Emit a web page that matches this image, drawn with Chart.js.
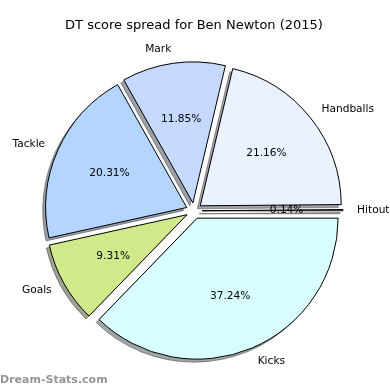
<!DOCTYPE html>
<html lang="en">
<head>
<meta charset="UTF-8">
<title>DT score spread for Ben Newton (2015)</title>
<script src="https://cdn.jsdelivr.net/npm/chart.js"></script>
<style>
    html, body { margin: 0; padding: 0; background: #fff; }
    #wrap { width: 390px; height: 390px; }
</style>
</head>
<body>
<div id="wrap"><canvas id="pie" width="390" height="390"></canvas></div>
<script>
    // values (matplotlib order, anticlockwise from 3 o'clock)
    const categories = ['Hitout', 'Handballs', 'Mark', 'Tackle', 'Goals', 'Kicks'];
    const shares = [0.14, 21.16, 11.85, 20.31, 9.31, 37.24];
    const sliceColors = ['#dfe6f2', '#eaf1ff', '#c5d9ff', '#b4d5ff', '#d0ea8b', '#d8feff'];
    const chartTitle = 'DT score spread for Ben Newton (2015)';
    const watermark = 'Dream-Stats.com';

    const EXPLODE = 8;   // px each slice is pushed out
    const SHADOW = 3;    // shadow offset, left & down
    const FONT = '"DejaVu Sans", sans-serif';

    // chart.js goes clockwise, so flip the order to get the same layout
    const labels = categories.slice().reverse();
    const values = shares.slice().reverse();
    const colors = sliceColors.slice().reverse();

    function shadowOf(hex) {
        const n = parseInt(hex.slice(1), 16);
        const r = Math.round(((n >> 16) & 255) * 0.3);
        const g = Math.round(((n >> 8) & 255) * 0.3);
        const b = Math.round((n & 255) * 0.3);
        return 'rgba(' + r + ',' + g + ',' + b + ',0.5)';
    }

    // push every arc out along its middle angle
    const explodePlugin = {
        id: 'explode',
        afterDatasetUpdate(chart, args) {
            args.meta.data.forEach(arc => {
                const mid = (arc.startAngle + arc.endAngle) / 2;
                arc.x += Math.cos(mid) * EXPLODE;
                arc.y += Math.sin(mid) * EXPLODE;
            });
        }
    };

    // grey shadow copies, drawn under all the slices
    const shadowPlugin = {
        id: 'shadow',
        beforeDatasetsDraw(chart) {
            const ctx = chart.ctx;
            chart.getDatasetMeta(0).data.forEach((arc, i) => {
                const x = arc.x - SHADOW, y = arc.y + SHADOW;
                const col = shadowOf(colors[i]);
                ctx.save();
                ctx.beginPath();
                ctx.moveTo(x, y);
                ctx.arc(x, y, arc.outerRadius, arc.startAngle, arc.endAngle);
                ctx.closePath();
                ctx.fillStyle = col;
                ctx.fill();
                ctx.strokeStyle = col;
                ctx.lineWidth = 1;
                ctx.stroke();
                ctx.restore();
            });
        }
    };

    // category names outside (1.1 r), percentages inside (0.6 r)
    const labelPlugin = {
        id: 'sliceLabels',
        afterDatasetsDraw(chart) {
            const ctx = chart.ctx;
            ctx.save();
            ctx.fillStyle = '#000';
            ctx.textBaseline = 'middle';
            chart.getDatasetMeta(0).data.forEach((arc, i) => {
                const mid = (arc.startAngle + arc.endAngle) / 2;
                const r = arc.outerRadius;
                const lx = arc.x + Math.cos(mid) * r * 1.1;
                const ly = arc.y + Math.sin(mid) * r * 1.1;
                ctx.font = '10.6px ' + FONT;
                ctx.textAlign = Math.cos(mid) > 0 ? 'left' : 'right';
                ctx.fillText(labels[i], lx, ly);
                ctx.textAlign = 'center';
                ctx.fillText(values[i].toFixed(2) + '%', arc.x + Math.cos(mid) * r * 0.6, arc.y + Math.sin(mid) * r * 0.6);
            });
            ctx.restore();
        },
        afterDraw(chart) {
            const ctx = chart.ctx;
            ctx.save();
            ctx.font = 'bold 11px ' + FONT;
            ctx.fillStyle = '#959595';
            ctx.textAlign = 'left';
            ctx.textBaseline = 'middle';
            ctx.fillText(watermark, 0, 380);
            ctx.restore();
        }
    };

    new Chart(document.getElementById('pie'), {
        type: 'pie',
        data: {
            labels: labels,
            datasets: [{
                data: values,
                backgroundColor: colors,
                borderColor: '#000',
                borderWidth: 1,
                hoverOffset: 0
            }]
        },
        options: {
            responsive: false,
            animation: false,
            rotation: 90,
            radius: 141,
            layout: { padding: { left: 0, right: 2, top: 0, bottom: 2 } },
            plugins: {
                legend: { display: false },
                tooltip: { enabled: false },
                title: {
                    display: true,
                    text: chartTitle,
                    color: '#000',
                    font: { family: FONT, size: 13, weight: 'normal' },
                    padding: { top: 18, bottom: 0 }
                }
            }
        },
        plugins: [explodePlugin, shadowPlugin, labelPlugin]
    });
</script>
</body>
</html>
